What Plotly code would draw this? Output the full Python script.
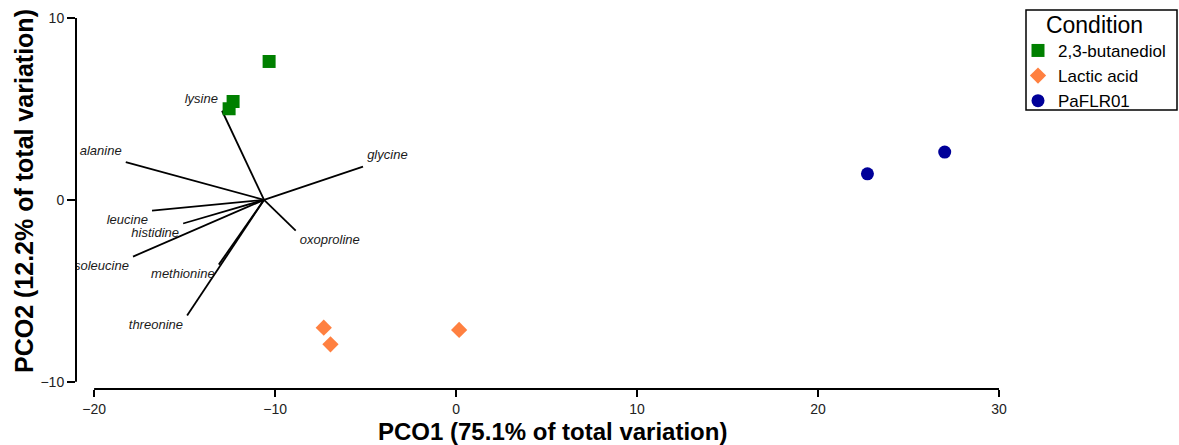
import plotly.graph_objects as go

# --- sample scores on the first two principal coordinates ---
butanediol_pco1 = [-10.33, -12.32, -12.54]
butanediol_pco2 = [7.61, 5.41, 5.01]

lactic_pco1 = [-7.31, -6.94, 0.17]
lactic_pco2 = [-7.03, -7.94, -7.15]

paflr_pco1 = [22.73, 27.0]
paflr_pco2 = [1.43, 2.63]

# --- amino-acid correlation vectors (end points) ---
amino_acids = ["lysine", "alanine", "glycine", "oxoproline", "leucine",
               "histidine", "isoleucine", "methionine", "threonine"]
vec_pco1 = [-12.93, -18.25, -5.14, -8.86, -16.8, -15.08, -17.85, -13.11, -14.86]
vec_pco2 = [4.9, 2.07, 1.83, -1.69, -0.59, -1.30, -3.12, -3.56, -6.36]
vector_origin = (-10.61, 0.0)

x_ticks = [-20, -10, 0, 10, 20, 30]
y_ticks = [-10, 0, 10]

# label placement around each vector tip
label_side = {
    "lysine": "top left", "alanine": "top left", "glycine": "top right",
    "oxoproline": "bottom right", "leucine": "bottom left",
    "histidine": "bottom left", "isoleucine": "bottom left",
    "methionine": "bottom left", "threonine": "bottom left",
}

W, H = 1179, 445
M_L, M_R, M_T, M_B = 76, 180, 18, 56
PLOT_W = W - M_L - M_R
PLOT_H = H - M_T - M_B
X_RANGE = [-21, 30]
Y_RANGE = [-10.4, 10]


def paper_x(px):
    return (px - M_L) / PLOT_W


def paper_y(py):
    return (H - M_B - py) / PLOT_H


def y_to_paper(v):
    return (v - Y_RANGE[0]) / (Y_RANGE[1] - Y_RANGE[0])


FONT = "Arial, Liberation Sans, sans-serif"

fig = go.Figure()

# vectors drawn from the common origin
vx, vy = [], []
for x, y in zip(vec_pco1, vec_pco2):
    vx += [vector_origin[0], x, None]
    vy += [vector_origin[1], y, None]
fig.add_trace(go.Scatter(
    x=vx, y=vy, mode="lines", line=dict(color="black", width=1.8),
    showlegend=False, hoverinfo="skip"))

# vector labels; an invisible marker gives the text a little clearance
for name, x, y in zip(amino_acids, vec_pco1, vec_pco2):
    fig.add_trace(go.Scatter(
        x=[x], y=[y], mode="markers+text", text=[f"<i>{name}</i>"],
        textposition=label_side[name],
        marker=dict(size=5, opacity=0),
        textfont=dict(family=FONT, size=13, color="#1a1a1a"),
        cliponaxis=True, showlegend=False, hoverinfo="skip"))

fig.add_trace(go.Scatter(
    x=butanediol_pco1, y=butanediol_pco2, mode="markers", name="2,3-butanediol",
    marker=dict(symbol="square", size=13, color="#008000", line=dict(width=0))))
fig.add_trace(go.Scatter(
    x=lactic_pco1, y=lactic_pco2, mode="markers", name="Lactic acid",
    marker=dict(symbol="diamond", size=12.5, color="#FF8040", line=dict(width=0))))
fig.add_trace(go.Scatter(
    x=paflr_pco1, y=paflr_pco2, mode="markers", name="PaFLR01",
    marker=dict(symbol="circle", size=13, color="#000099", line=dict(width=0))))

axis_common = dict(
    showline=False, zeroline=False, showgrid=False, ticks="outside",
    tickwidth=1.5, tickcolor="black",
    tickfont=dict(family=FONT, size=14, color="#222222"),
)

fig.update_layout(
    width=W, height=H,
    margin=dict(l=M_L, r=M_R, t=M_T, b=M_B, pad=0, autoexpand=False),
    paper_bgcolor="white", plot_bgcolor="white",
    xaxis=dict(range=X_RANGE, tickvals=x_ticks, ticklen=7, **axis_common),
    yaxis=dict(range=Y_RANGE, tickvals=y_ticks, ticklen=8, **axis_common),
    showlegend=True,
    legend=dict(
        x=paper_x(1018), y=paper_y(3), xanchor="left", yanchor="top",
        bgcolor="rgba(0,0,0,0)", borderwidth=0,
        font=dict(family=FONT, size=17, color="black"),
        title=dict(text="Condition", side="top center",
                   font=dict(family=FONT, size=23, color="black")),
        itemwidth=30, tracegroupgap=0,
    ),
)

# range-frame axis lines
fig.add_shape(type="line", xref="x", yref="paper", x0=x_ticks[0], x1=x_ticks[-1],
              y0=0, y1=0, line=dict(color="black", width=2))
fig.add_shape(type="line", xref="paper", yref="paper", x0=0, x1=0,
              y0=y_to_paper(y_ticks[0]), y1=y_to_paper(y_ticks[-1]),
              line=dict(color="black", width=2))

# legend frame
fig.add_shape(type="rect", xref="paper", yref="paper",
              x0=paper_x(1026), x1=paper_x(1177), y0=paper_y(110), y1=paper_y(10),
              line=dict(color="black", width=1.5))

# axis titles
fig.add_annotation(text="<b>PCO1 (75.1% of total variation)</b>",
                   xref="paper", yref="paper", x=paper_x(552),
                   y=paper_y(431), xanchor="center", yanchor="middle",
                   showarrow=False, font=dict(family=FONT, size=24, color="black"))
fig.add_annotation(text="<b>PCO2 (12.2% of total variation)</b>",
                   xref="paper", yref="paper", x=paper_x(24), y=paper_y(191),
                   textangle=-90, xanchor="center", yanchor="middle",
                   showarrow=False, font=dict(family=FONT, size=25, color="black"))

fig.write_html("out.html")
